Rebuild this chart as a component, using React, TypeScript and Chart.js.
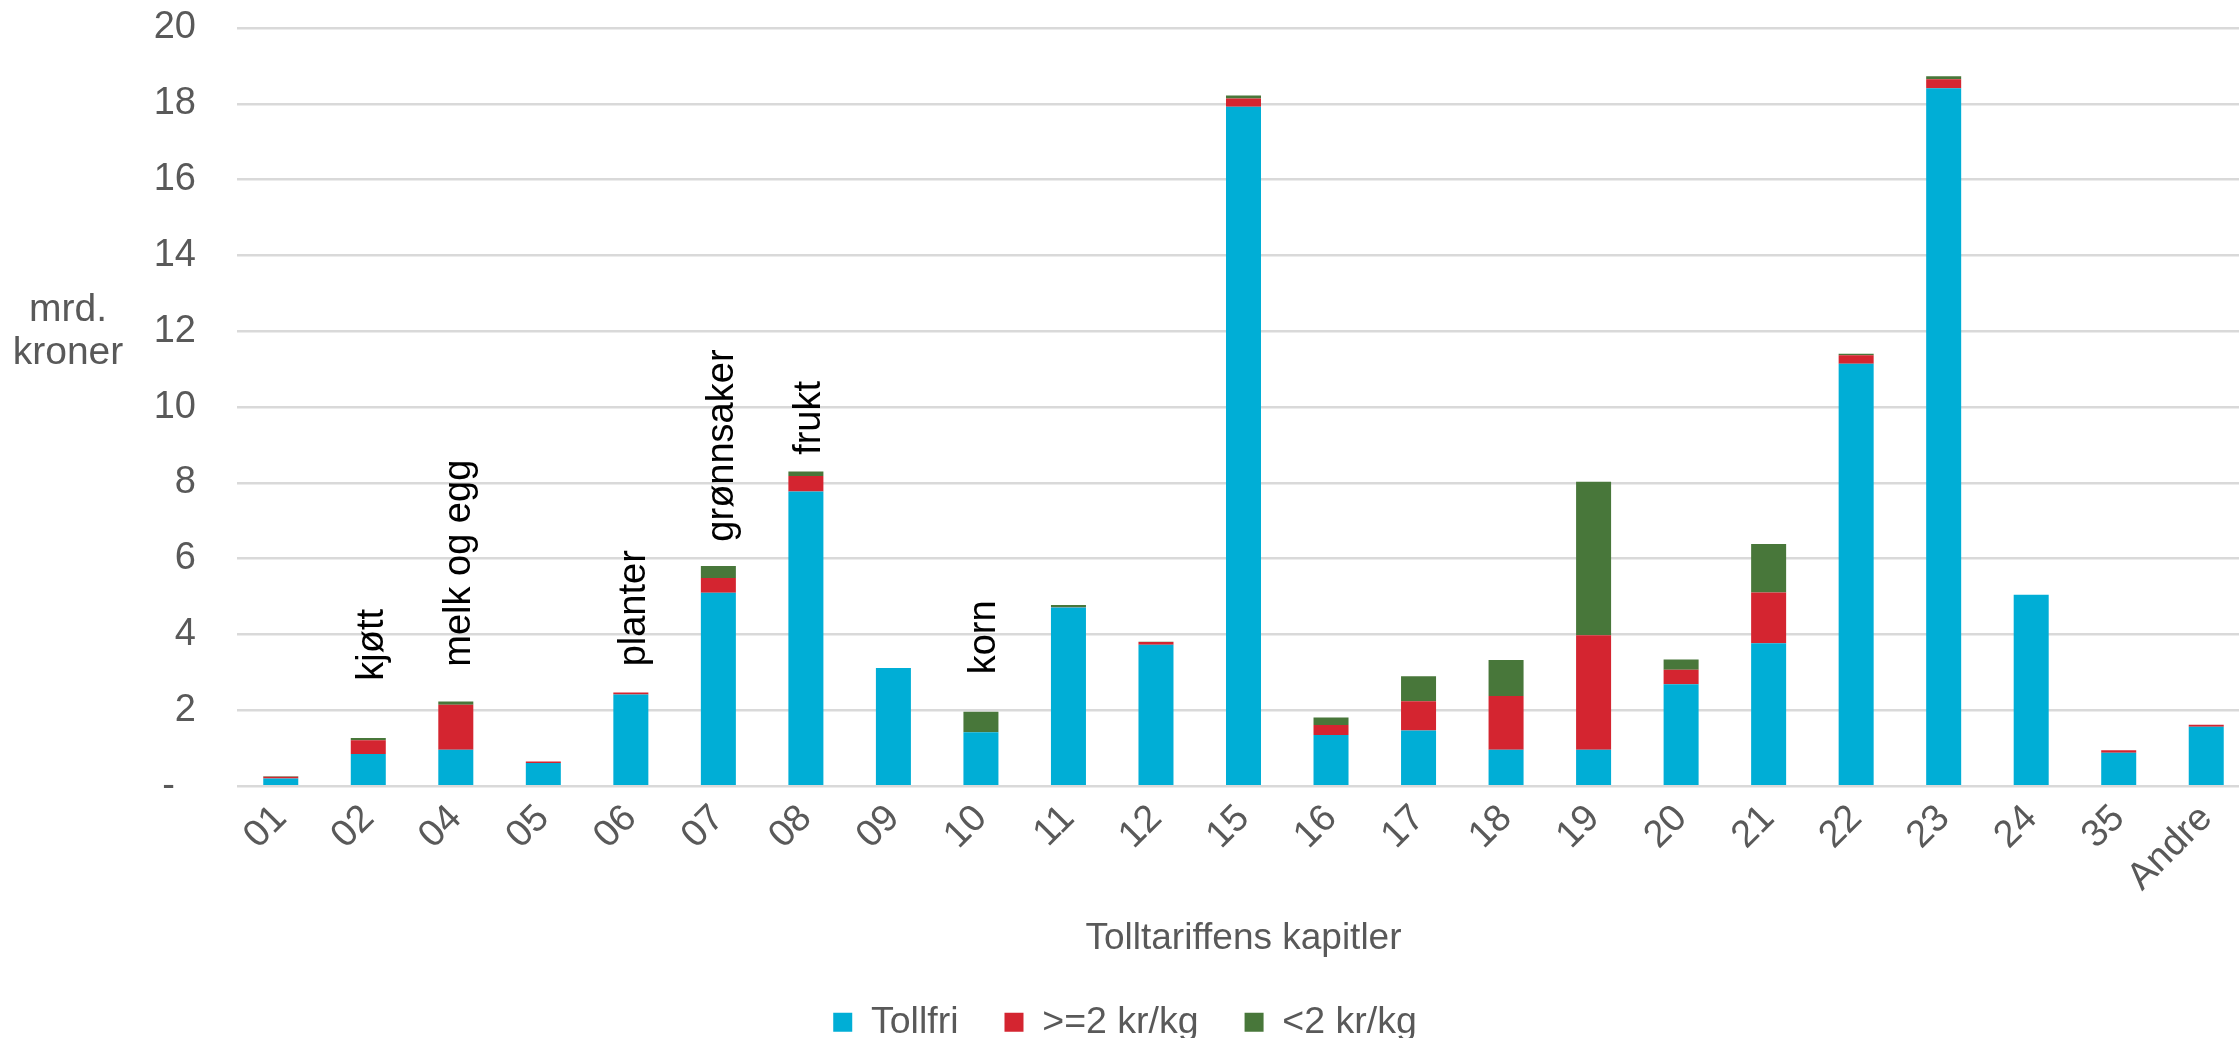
import React, { useEffect, useRef } from "react";
import { Chart, registerables } from "chart.js";

Chart.register(...registerables);

const categories = ["01", "02", "04", "05", "06", "07", "08", "09", "10", "11", "12", "15", "16", "17", "18", "19", "20", "21", "22", "23", "24", "35", "Andre"];
const tollfri = [0.20, 0.85, 0.96, 0.61, 2.42, 5.10, 7.77, 3.12, 1.42, 4.71, 3.73, 17.92, 1.35, 1.47, 0.96, 0.96, 2.69, 3.77, 11.14, 18.41, 5.05, 0.88, 1.57];
const over2 = [0.05, 0.36, 1.19, 0.04, 0.05, 0.39, 0.41, 0, 0, 0.01, 0.07, 0.22, 0.26, 0.77, 1.42, 3.02, 0.38, 1.34, 0.23, 0.24, 0, 0.07, 0.05];
const under2 = [0.01, 0.06, 0.08, 0, 0, 0.32, 0.12, 0, 0.54, 0.06, 0.01, 0.08, 0.20, 0.66, 0.95, 4.05, 0.27, 1.28, 0.04, 0.08, 0, 0, 0];
const seriesNames = ["Tollfri", ">=2 kr/kg", "<2 kr/kg"];
const seriesColors = ["#00AED6", "#D42530", "#48773A"];
const noteLabels = ["", "kjøtt", "melk og egg", "", "planter", "grønnsaker", "frukt", "", "korn", "", "", "", "", "", "", "", "", "", "", "", "", "", ""];
const noteAnchors = [0, 2.78, 3.15, 0, 3.16, 6.45, 8.74, 0, 2.95, 0, 0, 0, 0, 0, 0, 0, 0, 0, 0, 0, 0, 0, 0];
const yTitleLines = ["mrd.", "kroner"];
const xTitle = "Tolltariffens kapitler";

const FONT = "'Liberation Sans', Arial, Helvetica, sans-serif";
const GRAY = "#595959";

export default function App() {
  const ref = useRef<HTMLCanvasElement | null>(null);

  useEffect(() => {
    const canvas = ref.current;
    if (!canvas) return;

    const notesPlugin = {
      id: "notes",
      afterDatasetsDraw(chart: any) {
        const ctx = chart.ctx;
        const xs = chart.scales.x;
        const ys = chart.scales.y;
        ctx.save();
        ctx.fillStyle = "#000000";
        ctx.font = `38px ${FONT}`;
        ctx.textAlign = "left";
        ctx.textBaseline = "middle";
        noteLabels.forEach((t, i) => {
          if (!t) return;
          const x = xs.getPixelForValue(i) + 4;
          const y = ys.getPixelForValue(noteAnchors[i]);
          ctx.save();
          ctx.translate(x, y);
          ctx.rotate(-Math.PI / 2);
          ctx.fillText(t, 0, 0);
          ctx.restore();
        });
        ctx.restore();
      },
      afterDraw(chart: any) {
        const ctx = chart.ctx;
        ctx.save();
        ctx.fillStyle = GRAY;
        ctx.font = `39px ${FONT}`;
        ctx.textAlign = "center";
        ctx.textBaseline = "alphabetic";
        yTitleLines.forEach((t, i) => {
          ctx.fillText(t, 68, 321 + i * 43);
        });
        ctx.restore();
      },
    };

    const chart = new Chart(canvas, {
      type: "bar",
      data: {
        labels: categories,
        datasets: [tollfri, over2, under2].map((d, i) => ({
          label: seriesNames[i],
          data: d,
          backgroundColor: seriesColors[i],
          borderWidth: 0,
          categoryPercentage: 1,
          barPercentage: 0.4,
        })),
      },
      options: {
        animation: false,
        responsive: false,
        devicePixelRatio: 1,
        layout: { padding: { top: 28, left: 0, right: 0, bottom: -13 } },
        plugins: {
          tooltip: { enabled: false },
          legend: {
            position: "bottom",
            labels: {
              boxWidth: 19,
              boxHeight: 19,
              padding: 46,
              color: GRAY,
              font: { size: 37.5, family: FONT },
            },
          },
        },
        scales: {
          x: {
            stacked: true,
            grid: { display: false, drawTicks: false },
            border: { display: false },
            ticks: {
              color: GRAY,
              font: { size: 38, family: FONT },
              minRotation: 45,
              maxRotation: 45,
              autoSkip: false,
              padding: 10,
            },
            title: {
              display: true,
              text: xTitle,
              color: GRAY,
              font: { size: 37, family: FONT },
              padding: { top: 6, bottom: -3 },
            },
          },
          y: {
            stacked: true,
            min: 0,
            max: 20,
            grid: {
              color: "#D9D9D9",
              lineWidth: 2.5,
              drawTicks: true,
              tickLength: 37,
              tickColor: "rgba(0,0,0,0)",
            },
            border: { display: false },
            ticks: {
              stepSize: 2,
              color: GRAY,
              font: { size: 38, family: FONT },
              padding: 4,
              callback: (v: any) => (Number(v) === 0 ? "-  " : String(v)),
            },
            afterFit: (scale: any) => {
              scale.width = 237;
            },
          },
        },
      },
      plugins: [notesPlugin],
    });

    return () => chart.destroy();
  }, []);

  return (
    <div style={{ position: "absolute", left: 0, top: 0, width: 2239, height: 1038, overflow: "hidden", background: "#ffffff" }}>
      <canvas ref={ref} width={2250} height={1038} style={{ display: "block", width: 2250, height: 1038 }} />
    </div>
  );
}
